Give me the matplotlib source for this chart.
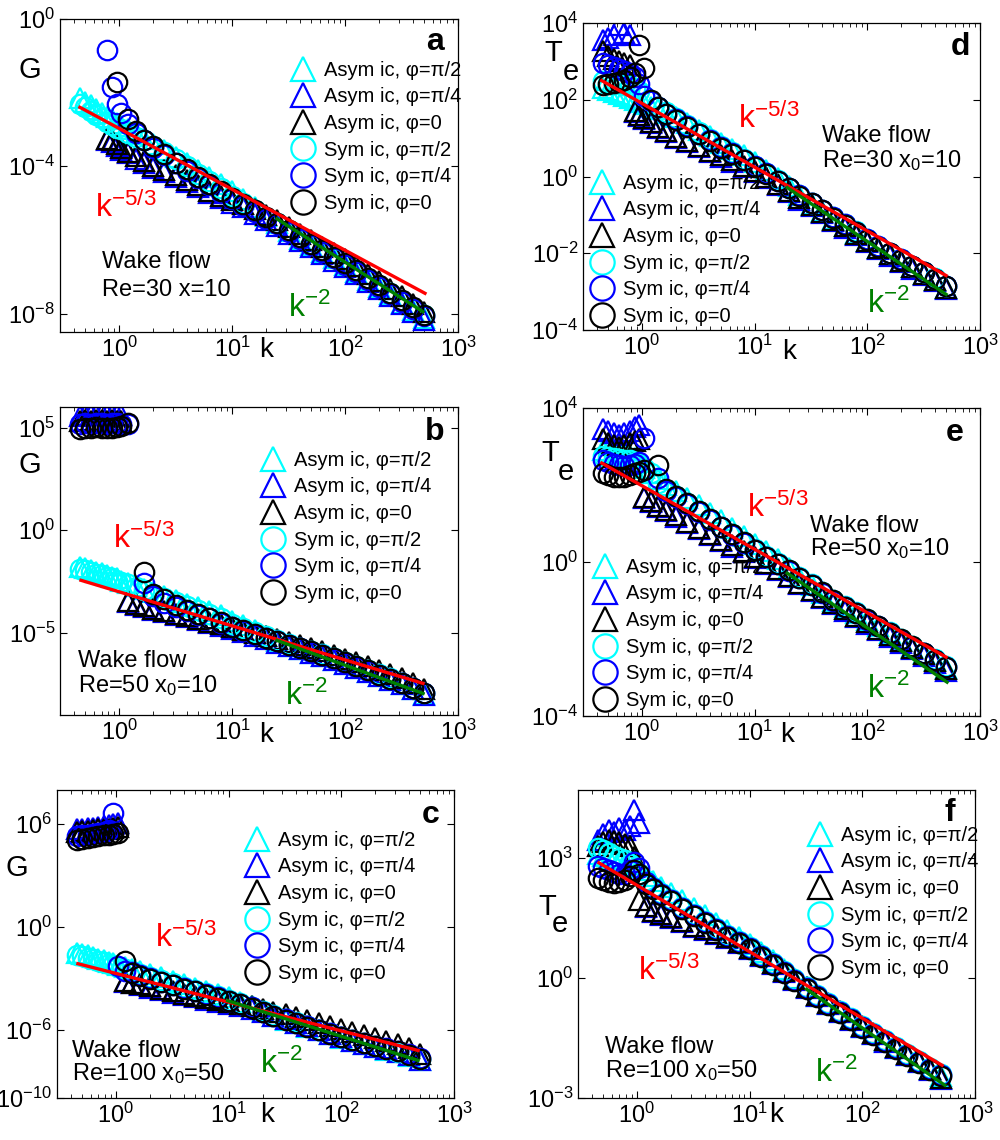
import matplotlib
matplotlib.use("Agg")
import matplotlib.pyplot as plt
from matplotlib.ticker import LogLocator, NullLocator
import numpy as np

plt.rcParams['font.family'] = ['Liberation Sans', 'DejaVu Sans']
plt.rcParams['mathtext.fontset'] = 'custom'
plt.rcParams['mathtext.rm'] = 'Liberation Sans'
plt.rcParams['mathtext.it'] = 'Liberation Sans'
plt.rcParams['mathtext.bf'] = 'Liberation Sans:bold'

N = None

# wavenumbers shared by all panels
k = [0.45, 0.5, 0.56, 0.63, 0.7, 0.78, 0.86, 0.95, 1.05, 1.2,
     1.4, 1.65, 2.0, 2.5, 3.2, 4.0, 5.0, 6.3, 8.0, 10,
     12.5, 16, 20, 25, 32, 40, 50, 63, 80, 100,
     125, 160, 200, 250, 320, 400, 500]

labels = ['Asym ic, \u03c6=\u03c0/2', 'Asym ic, \u03c6=\u03c0/4', 'Asym ic, \u03c6=0',
          'Sym ic, \u03c6=\u03c0/2', 'Sym ic, \u03c6=\u03c0/4', 'Sym ic, \u03c6=0']

# ---- panel a : log10 G, Re=30 ----
a_asym_pi2 = [-2.15,-2.25,-2.35,-2.45,-2.55,-2.65,-2.72,-2.82,-2.9,-3.0, -3.12,-3.25,-3.4,-3.55,-3.75,-3.92,-4.1,-4.28,-4.48,-4.68, -4.9,-5.12,-5.35,-5.55,-5.77,-5.97,-6.15,-6.33,-6.5,-6.68, -6.88,-7.08,-7.28,-7.48,-7.7,-7.9,-8.12]
a_asym_pi4 = [N,N,N,N,N,-3.3,-3.35,-3.45,-3.55,-3.65, -3.8,-3.92,-4.05,-4.15,-4.3,-4.42,-4.57,-4.72,-4.87,-5.0, -5.12,-5.3,-5.47,-5.63,-5.83,-6.03,-6.2,-6.38,-6.56,-6.73, -6.93,-7.13,-7.33,-7.53,-7.75,-7.95,-8.18]
a_asym_0 = [N,N,N,N,N,-3.25,-3.3,-3.4,-3.5,-3.6, -3.72,-3.85,-3.98,-4.1,-4.25,-4.37,-4.52,-4.67,-4.82,-4.93, -5.02,-5.17,-5.33,-5.47,-5.65,-5.85,-6.0,-6.18,-6.35,-6.52, -6.72,-6.92,-7.12,-7.32,-7.52,-7.73,-7.95]
a_sym_pi2 = [-2.3,-2.4,-2.5,-2.6,-2.7,-2.8,-2.87,-2.95,-3.0,-3.1, -3.2,-3.3,-3.45,-3.6,-3.8,-4.0,-4.2,-4.4,-4.6,-4.8, -5.0,-5.2,-5.4,-5.55,-5.75,-5.95,-6.12,-6.3,-6.48,-6.65, -6.85,-7.05,-7.25,-7.45,-7.65,-7.85,-8.05]
a_sym_pi4 = [N,N,N,N,N,-0.85,-1.85,-2.3,-2.55,-2.85, -3.1,-3.3,-3.5,-3.7,-3.92,-4.12,-4.32,-4.52,-4.72,-4.9, -5.07,-5.24,-5.42,-5.58,-5.78,-5.97,-6.15,-6.33,-6.5,-6.68, -6.88,-7.08,-7.28,-7.48,-7.68,-7.88,-8.08]
a_sym_0 = [N,N,N,N,N,N,N,-1.7,N,-2.73, -3.05,-3.3,-3.46,-3.68,-3.9,-4.08,-4.28,-4.48,-4.68,-4.87, -5.03,-5.2,-5.38,-5.53,-5.73,-5.93,-6.1,-6.28,-6.46,-6.63, -6.83,-7.03,-7.23,-7.43,-7.63,-7.83,-8.03]

# ---- panel b : log10 G, Re=50 ----
b_asym_pi2 = [-1.8,-1.85,-1.95,-2.05,-2.1,-2.2,-2.3,-2.35,-2.45,-2.55, -2.7,-2.85,-3.0,-3.2,-3.4,-3.6,-3.75,-3.95,-4.15,-4.4, -4.62,-4.85,-5.15,-5.38,-5.63,-5.8,-5.97,-6.13,-6.3,-6.5, -6.7,-6.9,-7.1,-7.3,-7.5,-7.75,-8.0]
b_asym_pi4 = [5.55,5.6,5.62,5.6,5.65,5.62,5.6,5.63,5.6,-3.5, -3.62,-3.75,-3.88,-4.0,-4.12,-4.25,-4.37,-4.5,-4.65,-4.8, -4.97,-5.14,-5.3,-5.47,-5.65,-5.8,-5.97,-6.13,-6.3,-6.5, -6.7,-6.9,-7.1,-7.3,-7.5,-7.75,-8.02]
b_asym_0 = [5.3,5.35,5.32,5.38,5.35,5.3,5.35,5.33,5.3,-3.45, -3.58,-3.7,-3.82,-3.95,-4.07,-4.2,-4.32,-4.45,-4.58,-4.7, -4.85,-5.0,-5.15,-5.3,-5.45,-5.6,-5.75,-5.9,-6.07,-6.25, -6.42,-6.6,-6.8,-7.0,-7.22,-7.45,-7.75]
b_sym_pi2 = [-1.9,-1.95,-2.05,-2.12,-2.2,-2.28,-2.35,-2.45,-2.52,-2.62, -2.75,-2.9,-3.1,-3.3,-3.5,-3.7,-3.9,-4.1,-4.3,-4.55, -4.75,-4.95,-5.15,-5.35,-5.55,-5.72,-5.9,-6.05,-6.22,-6.42, -6.62,-6.82,-7.02,-7.22,-7.42,-7.68,-7.93]
b_sym_pi4 = [5.15,5.2,5.18,5.22,5.2,5.18,5.22,5.2,5.18,5.15, N,-2.55,-3.2,-3.55,-3.75,-3.95,-4.12,-4.3,-4.5,-4.72, -4.9,-5.08,-5.25,-5.42,-5.6,-5.75,-5.92,-6.08,-6.25,-6.45, -6.65,-6.85,-7.05,-7.25,-7.45,-7.7,-7.95]
b_sym_0 = [4.95,5.0,4.98,5.02,5.0,4.97,5.0,5.02,5.05,5.2, N,-2.05,-3.1,-3.35,-3.62,-3.9,-4.1,-4.28,-4.48,-4.7, -4.88,-5.06,-5.23,-5.4,-5.58,-5.73,-5.9,-6.06,-6.23,-6.43, -6.63,-6.83,-7.03,-7.23,-7.43,-7.68,-7.93]

# ---- panel c : log10 G, Re=100 ----
c_asym_pi2 = [-1.5,-1.58,-1.67,-1.77,-1.86,-1.95,-2.03,-2.12,-2.2,-2.32, -2.45,-2.6,-2.75,-2.95,-3.15,-3.35,-3.55,-3.75,-3.93,-4.12, -4.4,-4.65,-4.92,-5.2,-5.42,-5.62,-5.83,-6.03,-6.27,-6.47, -6.67,-6.85,-7.02,-7.18,-7.33,-7.52,-7.75]
c_asym_pi4 = [5.7,5.75,5.78,5.8,5.85,5.9,5.95,6.0,6.05,-3.2, -3.3,-3.4,-3.55,-3.7,-3.85,-4.0,-4.12,-4.25,-4.38,-4.5, -4.65,-4.82,-5.0,-5.2,-5.4,-5.6,-5.8,-6.02,-6.25,-6.45, -6.65,-6.83,-7.0,-7.15,-7.3,-7.5,-7.75]
c_asym_0 = [5.55,5.6,5.62,5.65,5.7,5.72,5.75,5.8,5.85,-3.15, -3.25,-3.35,-3.48,-3.62,-3.76,-3.9,-4.02,-4.15,-4.27,-4.4, -4.52,-4.65,-4.8,-4.95,-5.1,-5.25,-5.42,-5.6,-5.78,-5.95, -6.12,-6.3,-6.48,-6.67,-6.87,-7.1,-7.45]
c_sym_pi2 = [-1.65,-1.72,-1.8,-1.9,-1.98,-2.07,-2.15,-2.23,-2.32,-2.45, -2.6,-2.75,-2.92,-3.1,-3.3,-3.5,-3.68,-3.87,-4.05,-4.25, -4.47,-4.68,-4.92,-5.17,-5.38,-5.58,-5.8,-6.0,-6.22,-6.42, -6.62,-6.8,-6.97,-7.12,-7.28,-7.47,-7.7]
c_sym_pi4 = [5.3,5.35,5.4,5.45,5.5,5.55,5.65,6.65,-2.27,-2.55, -2.65,-2.8,-3.0,-3.2,-3.4,-3.58,-3.75,-3.93,-4.12,-4.3, -4.5,-4.7,-4.95,-5.2,-5.4,-5.6,-5.8,-6.0,-6.22,-6.42, -6.6,-6.78,-6.95,-7.1,-7.25,-7.45,-7.68]
c_sym_0 = [5.1,5.15,5.2,5.25,5.3,5.35,5.4,5.45,5.5,-1.98, -2.68,-2.85,-3.02,-3.22,-3.42,-3.6,-3.77,-3.95,-4.14,-4.32, -4.52,-4.72,-4.97,-5.22,-5.42,-5.62,-5.82,-6.02,-6.24,-6.44, -6.62,-6.8,-6.97,-7.12,-7.27,-7.47,-7.7]

# ---- panel d : log10 Te, Re=30 ----
d_asym_pi2 = [2.3,2.25,2.2,2.15,2.1,2.05,2.0,1.95,1.9,1.82, 1.75,1.65,1.55,1.4,1.22,1.05,0.88,0.72,0.55,0.37, 0.17,-0.04,-0.25,-0.47,-0.72,-0.9,-1.1,-1.29,-1.48,-1.68, -1.86,-2.03,-2.2,-2.37,-2.53,-2.7,-2.9]
d_asym_pi4 = [3.55,3.62,3.7,3.96,3.75,3.7,1.67,1.57,1.49,1.39, 1.27,1.15,1.01,0.89,0.77,0.64,0.52,0.39,0.25,0.12, -0.05,-0.23,-0.41,-0.6,-0.78,-0.96,-1.15,-1.33,-1.53,-1.71, -1.89,-2.06,-2.23,-2.4,-2.56,-2.73,-2.93]
d_asym_0 = [3.26,3.15,3.05,3.0,2.95,2.9,1.7,1.6,1.52,1.42, 1.3,1.18,1.04,0.92,0.8,0.67,0.55,0.42,0.28,0.15, -0.02,-0.2,-0.38,-0.57,-0.75,-0.93,-1.12,-1.3,-1.5,-1.68, -1.86,-2.03,-2.2,-2.37,-2.53,-2.7,-2.9]
d_sym_pi2 = [2.5,2.45,2.42,2.4,2.38,2.35,2.3,2.22,2.1,1.98, 1.82,1.68,1.52,1.35,1.15,0.97,0.8,0.63,0.46,0.28, 0.09,-0.1,-0.29,-0.48,-0.68,-0.86,-1.05,-1.24,-1.43,-1.63, -1.81,-1.98,-2.15,-2.32,-2.48,-2.65,-2.84]
d_sym_pi4 = [2.95,2.9,2.85,2.8,2.75,2.7,2.6,2.4,2.1,1.97, 1.8,1.64,1.5,1.32,1.12,0.94,0.77,0.61,0.44,0.27, 0.08,-0.11,-0.3,-0.49,-0.69,-0.87,-1.06,-1.25,-1.44,-1.64, -1.82,-1.99,-2.16,-2.33,-2.49,-2.66,-2.85]
d_sym_0 = [2.38,2.4,2.43,2.47,2.52,2.6,2.7,3.44,2.84,2.0, 1.8,1.62,1.48,1.3,1.1,0.92,0.75,0.6,0.43,0.26, 0.07,-0.12,-0.31,-0.5,-0.7,-0.88,-1.07,-1.26,-1.45,-1.65, -1.83,-2.0,-2.17,-2.34,-2.5,-2.67,-2.86]

# ---- panel e : log10 Te, Re=50 ----
e_asym_pi2 = [2.9,2.88,2.85,2.82,2.8,2.75,2.7,2.6,2.45,2.3, 2.15,2.0,1.85,1.67,1.47,1.27,1.08,0.88,0.68,0.48, 0.28,0.07,-0.15,-0.4,-0.6,-0.8,-1.0,-1.17,-1.33,-1.5, -1.67,-1.85,-2.02,-2.2,-2.37,-2.55,-2.75]
e_asym_pi4 = [3.45,3.4,3.35,3.3,3.35,3.4,3.5,3.55,1.66,1.55, 1.42,1.32,1.18,1.02,0.85,0.7,0.55,0.4,0.25,0.1, -0.06,-0.22,-0.4,-0.58,-0.76,-0.94,-1.1,-1.27,-1.43,-1.6, -1.77,-1.94,-2.1,-2.27,-2.44,-2.62,-2.82]
e_asym_0 = [3.2,3.1,3.05,3.0,3.05,3.1,3.15,3.2,1.7,1.58, 1.45,1.35,1.21,1.05,0.88,0.73,0.58,0.43,0.28,0.14, -0.02,-0.18,-0.36,-0.54,-0.72,-0.9,-1.06,-1.23,-1.39,-1.56, -1.73,-1.9,-2.06,-2.23,-2.4,-2.58,-2.78]
e_sym_pi2 = [2.75,2.72,2.7,2.68,2.66,2.64,2.6,2.55,2.45,2.3, 2.05,1.88,1.72,1.52,1.32,1.12,0.92,0.72,0.52,0.33, 0.15,-0.03,-0.21,-0.4,-0.58,-0.78,-0.98,-1.15,-1.31,-1.48, -1.65,-1.83,-2.0,-2.18,-2.35,-2.53,-2.71]
e_sym_pi4 = [2.65,2.6,2.55,2.52,2.5,2.52,2.55,2.6,3.22,N, 2.18,1.85,1.7,1.5,1.3,1.1,0.9,0.7,0.5,0.31, 0.13,-0.05,-0.23,-0.42,-0.6,-0.8,-1.0,-1.17,-1.33,-1.5, -1.67,-1.85,-2.02,-2.2,-2.37,-2.55,-2.73]
e_sym_0 = [2.3,2.25,2.2,2.2,2.22,2.25,2.3,2.35,2.4,N, 2.52,1.9,1.72,1.52,1.32,1.12,0.92,0.72,0.52,0.32, 0.14,-0.04,-0.22,-0.41,-0.59,-0.79,-0.99,-1.16,-1.32,-1.49, -1.66,-1.84,-2.01,-2.19,-2.36,-2.54,-2.72]

# ---- panel f : log10 Te, Re=100 ----
f_asym_pi2 = [3.1,3.05,3.0,2.95,2.92,2.9,2.85,2.78,2.7,2.55, 2.42,2.28,2.12,1.95,1.75,1.57,1.38,1.2,1.02,0.85, 0.65,0.45,0.22,0.0,-0.22,-0.45,-0.65,-0.85,-1.03,-1.22, -1.4,-1.58,-1.75,-1.92,-2.1,-2.27,-2.45]
f_asym_pi4 = [3.45,3.6,3.7,3.65,3.75,3.7,3.8,4.2,3.88,1.78, 1.65,1.57,1.49,1.39,1.27,1.19,1.09,0.99,0.87,0.72, 0.54,0.34,0.14,-0.06,-0.26,-0.46,-0.66,-0.86,-1.05,-1.23, -1.41,-1.59,-1.76,-1.93,-2.11,-2.31,-2.53]
f_asym_0 = [3.3,3.4,3.45,3.42,3.4,3.35,3.3,3.03,1.95,1.8, 1.68,1.6,1.52,1.42,1.3,1.22,1.12,1.02,0.9,0.75, 0.57,0.37,0.17,-0.03,-0.23,-0.43,-0.63,-0.83,-1.02,-1.2, -1.38,-1.56,-1.73,-1.9,-2.08,-2.28,-2.5]
f_sym_pi2 = [3.25,3.2,3.12,3.05,3.0,2.95,2.85,2.7,2.6,2.45, 2.28,2.12,1.97,1.77,1.6,1.42,1.24,1.07,0.92,0.77, 0.57,0.37,0.17,-0.03,-0.23,-0.43,-0.63,-0.83,-1.01,-1.2, -1.38,-1.56,-1.73,-1.9,-2.08,-2.25,-2.41]
f_sym_pi4 = [2.8,2.75,2.7,2.65,2.6,2.6,2.7,2.9,2.75,2.4, 2.25,2.1,1.95,1.75,1.58,1.4,1.22,1.05,0.9,0.75, 0.55,0.35,0.15,-0.05,-0.25,-0.45,-0.65,-0.85,-1.03,-1.22, -1.4,-1.58,-1.75,-1.92,-2.1,-2.27,-2.43]
f_sym_0 = [2.5,2.45,2.4,2.38,2.4,2.45,2.55,2.7,2.6,2.35, 2.22,2.08,1.93,1.73,1.56,1.38,1.2,1.03,0.88,0.73, 0.53,0.33,0.13,-0.07,-0.27,-0.47,-0.67,-0.87,-1.05,-1.24, -1.42,-1.6,-1.77,-1.94,-2.12,-2.29,-2.45]

# reference power laws: end points (k, log10 value)
a_red = ([0.45, 510], [-2.4, -7.45]);  a_green = ([25, 490], [-5.43, -7.95])
b_red = ([0.46, 490], [-2.44, -7.46]); b_green = ([25, 490], [-5.37, -7.95])
c_red = ([0.46, 480], [-2.15, -7.22]); c_green = ([9.8, 480], [-4.31, -7.8])
d_red = ([0.44, 500], [2.5, -2.58]);   d_green = ([19.5, 500], [-0.29, -3.07])
e_red = ([0.44, 500], [2.57, -2.47]);  e_green = ([19.5, 510], [-0.29, -3.12])
f_red = ([0.46, 510], [2.88, -2.18]);  f_green = ([32, 540], [-0.28, -2.68])

styles = [('^', '#00ffff'), ('^', '#0000ff'), ('^', 'k'),
          ('o', '#00ffff'), ('o', '#0000ff'), ('o', 'k')]

# ylab: (text, x, y) pieces in axes fraction, so the subscript e can be as large as in the original
panels = [
    dict(letter='a', rect=[0.060, 0.7088, 0.398, 0.2746], series=[a_asym_pi2, a_asym_pi4, a_asym_0, a_sym_pi2, a_sym_pi4, a_sym_0],
         red=a_red, green=a_green, ylim=(-8.5, 0), yticks=[1e-8, 1e-4, 1e0], ylab=[('G', -0.075, 0.837)],
         leg=(0.578, 0.867), wake=(0.106, 0.204, 0.115), wake2='Re=30 x=10', red_xy=(0.088, 0.367), green_xy=(0.573, 0.048),
         k_xy=(0.518, -0.058), let_xy=(0.942, 0.927)),
    dict(letter='b', rect=[0.060, 0.3728, 0.398, 0.2702], series=[b_asym_pi2, b_asym_pi4, b_asym_0, b_sym_pi2, b_sym_pi4, b_sym_0],
         red=b_red, green=b_green, ylim=(-9, 6), yticks=[1e-5, 1e0, 1e5], ylab=[('G', -0.075, 0.812)],
         leg=(0.503, 0.858), wake=(0.045, 0.156, 0.075), wake2=r'Re=50 x$_0$=10', red_xy=(0.133, 0.542), green_xy=(0.565, 0.032),
         k_xy=(0.518, -0.065), let_xy=(0.942, 0.919)),
    dict(letter='c', rect=[0.057, 0.0368, 0.397, 0.2702], series=[c_asym_pi2, c_asym_pi4, c_asym_0, c_sym_pi2, c_sym_pi4, c_sym_0],
         red=c_red, green=c_green, ylim=(-10, 8), yticks=[1e-10, 1e-6, 1e0, 1e6], ylab=[('G', -0.1, 0.747)],
         leg=(0.471, 0.868), wake=(0.038, 0.133, 0.058), wake2=r'Re=100 x$_0$=50', red_xy=(0.247, 0.49), green_xy=(0.511, 0.081),
         k_xy=(0.529, -0.055), let_xy=(0.94, 0.919)),
    dict(letter='d', rect=[0.583, 0.7105, 0.397, 0.2693], series=[d_asym_pi2, d_asym_pi4, d_asym_0, d_sym_pi2, d_sym_pi4, d_sym_0],
         red=d_red, green=d_green, ylim=(-4, 4), yticks=[1e-4, 1e-2, 1e0, 1e2, 1e4], ylab=[('T', -0.076, 0.902), ('e', -0.031, 0.840)],
         leg=(0.015, 0.509), wake=(0.602, 0.612, 0.531), wake2=r'Re=30 x$_0$=10', red_xy=(0.39, 0.658), green_xy=(0.715, 0.055),
         k_xy=(0.52, -0.07), let_xy=(0.95, 0.922)),
    dict(letter='e', rect=[0.583, 0.3719, 0.397, 0.2702], series=[e_asym_pi2, e_asym_pi4, e_asym_0, e_sym_pi2, e_sym_pi4, e_sym_0],
         red=e_red, green=e_green, ylim=(-4, 4), yticks=[1e-4, 1e0, 1e4], ylab=[('T', -0.083, 0.854), ('e', -0.043, 0.792)],
         leg=(0.023, 0.514), wake=(0.572, 0.597, 0.523), wake2=r'Re=50 x$_0$=10', red_xy=(0.413, 0.646), green_xy=(0.715, 0.058),
         k_xy=(0.514, -0.06), let_xy=(0.937, 0.919)),
    dict(letter='f', rect=[0.578, 0.0368, 0.397, 0.2702], series=[f_asym_pi2, f_asym_pi4, f_asym_0, f_sym_pi2, f_sym_pi4, f_sym_0],
         red=f_red, green=f_green, ylim=(-3, 4.7), yticks=[1e-3, 1e0, 1e3], ylab=[('T', -0.078, 0.62), ('e', -0.046, 0.565)],
         leg=(0.577, 0.884), wake=(0.068, 0.146, 0.068), wake2=r'Re=100 x$_0$=50', red_xy=(0.151, 0.383), green_xy=(0.597, 0.052),
         k_xy=(0.50, -0.055), let_xy=(0.937, 0.925)),
]

fig = plt.figure(figsize=(10.0, 11.4), dpi=100)

for p in panels:
    ax = fig.add_axes(p['rect'])
    handles = []
    for vals, (mk, col), lab in zip(p['series'], styles, labels):
        y = 10 ** np.array(vals, dtype=float)
        h, = ax.plot(k, y, linestyle='none', marker=mk, markersize=14, markerfacecolor='none',
                     markeredgecolor=col, markeredgewidth=1.6, label=lab)
        handles.append(h)
    ax.plot(p['red'][0], 10 ** np.array(p['red'][1]), color='#ff0000', lw=2.4)
    ax.plot(p['green'][0], 10 ** np.array(p['green'][1]), color='#008000', lw=2.4)

    ax.set_xscale('log')
    ax.set_yscale('log')
    ax.set_xlim(0.3, 1000)
    ax.set_ylim(10 ** p['ylim'][0], 10 ** p['ylim'][1])
    ax.set_xticks([1, 10, 100, 1000])
    ax.xaxis.set_minor_locator(LogLocator(base=10, subs=np.arange(2, 10) * 1.0, numticks=20))
    ax.set_yticks(p['yticks'])
    ax.yaxis.set_minor_locator(NullLocator())
    ax.tick_params(which='both', direction='in', top=True, right=True, labelsize=17)
    ax.tick_params(which='major', length=5, width=0.8)
    ax.tick_params(which='minor', length=3, width=0.6)
    for s in ax.spines.values():
        s.set_linewidth(0.9)

    ax.legend(handles=handles, loc='upper left', bbox_to_anchor=p['leg'], frameon=False, fontsize=14.5,
              borderpad=0, borderaxespad=0, handlelength=1.25, handletextpad=0.45, labelspacing=0.38,
              markerscale=1.25, numpoints=1)

    tr = ax.transAxes
    for txt, tx, ty in p['ylab']:
        ax.text(tx, ty, txt, transform=tr, fontsize=21, ha='center', va='center')
    ax.text(p['k_xy'][0], p['k_xy'][1], 'k', transform=tr, fontsize=20, ha='center', va='center')
    ax.text(p['let_xy'][0], p['let_xy'][1], p['letter'], transform=tr, fontsize=23, fontweight='bold',
            ha='center', va='center')
    wx, wy1, wy2 = p['wake']
    ax.text(wx, wy1, 'Wake flow', transform=tr, fontsize=17, ha='left', va='baseline')
    ax.text(wx, wy2, p['wake2'], transform=tr, fontsize=17, ha='left', va='baseline')
    ax.text(p['red_xy'][0], p['red_xy'][1], r'$\mathregular{k^{-5/3}}$', transform=tr, fontsize=23,
            color='#ff0000', ha='left', va='baseline')
    ax.text(p['green_xy'][0], p['green_xy'][1], r'$\mathregular{k^{-2}}$', transform=tr, fontsize=23,
            color='#008000', ha='left', va='baseline')

fig.savefig('out.png', dpi=100)
